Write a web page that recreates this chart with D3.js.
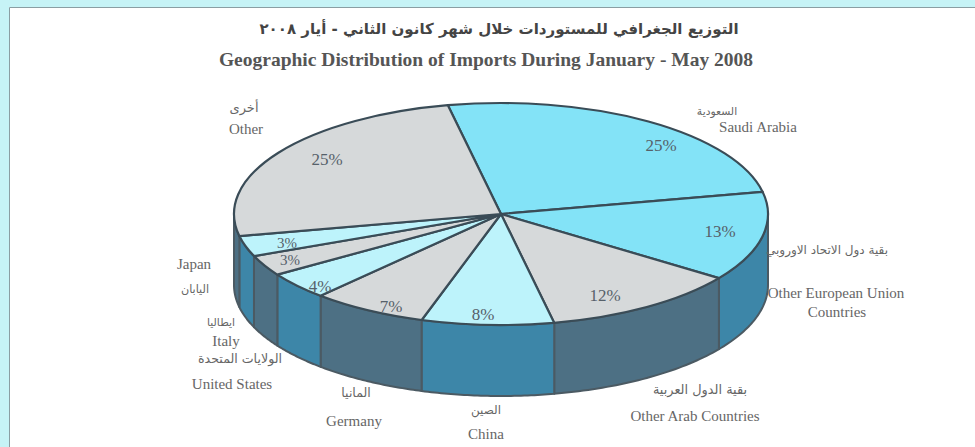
<!DOCTYPE html>
<html>
<head>
<meta charset="utf-8">
<script src="https://cdn.jsdelivr.net/npm/d3@7"></script>
<style>
  html, body { margin: 0; padding: 0; background: #c6f3f6; overflow: hidden; }
  text { font-family: "Liberation Serif", serif; fill: #666; }
  .ar { font-family: "DejaVu Sans", sans-serif; direction: rtl; }
</style>
</head>
<body>
<div id="visualization"></div>
<script>
const width = 975;
const height = 447;

// clockwise from the top seam, same order as the reference
const names = ['Saudi Arabia', 'Other European Union', 'Other Arab Countries', 'China', 'Germany', 'United States', 'Italy', 'Japan', 'Other'];
const namesAr = ['السعودية', 'بقية دول الاتحاد الاوروبي', 'بقية الدول العربية', 'الصين', 'المانيا', 'الولايات المتحدة', 'ايطاليا', 'اليابان', 'أخرى'];
const shares = [25, 13, 12, 8, 7, 4, 3, 3, 25];

const titleAr = 'التوزيع الجغرافي للمستوردات خلال شهر كانون الثاني - أيار ٢٠٠٨';
const titleEn = 'Geographic Distribution of Imports During January - May 2008';

// pixel spots for the labels, these were placed by hand
const pctAt = [[661, 147], [720, 233], [605, 297], [483, 316], [391, 308], [320, 288], [290, 262], [287, 245], [327, 161]];
const pctSize = [17, 17, 17, 17, 17, 17, 15, 15, 17];
const enAt = [[758, 129], [836, 295], [695, 418], [486, 436], [354, 423], [232, 386], [226, 343], [194, 266], [246, 131]];
const arAt = [[717, 112], [827, 250], [700, 390], [486, 410], [356, 393], [240, 359], [221, 323], [195, 290], [244, 108]];
const arSize = [10.8, 12, 12.9, 12, 12.5, 12.6, 10.8, 11.2, 13];

const cx = 501, cy = 214, rx = 267, ry = 111, depth = 71;
const start = -11.5 * Math.PI / 180;

const topColor = ['#83e3f7', '#83e3f7', '#d6d9da', '#bdf3fb', '#d6d9da', '#bdf3fb', '#d6d9da', '#bdf3fb', '#d6d9da'];
const sideColor = ['#3d86a8', '#3d86a8', '#4d7084', '#3d86a8', '#4d7084', '#3d86a8', '#4d7084', '#3d86a8', '#4d7084'];

const pie = d3.pie().sort(null).startAngle(start).endAngle(start + 2 * Math.PI);
const slices = pie(shares).map((d, i) => ({...d, i}));

const svg = d3.select('#visualization').append('svg').attr('width', width).attr('height', height).style('display', 'block');

svg.append('rect')
    .attr('x', 9).attr('y', 7)
    .attr('width', width - 9).attr('height', height - 7)
    .attr('fill', 'white');
svg.append('path')
    .attr('d', `M9.5,${height}V7.5H${width}`)
    .attr('fill', 'none').attr('stroke', '#8a9ea3').attr('stroke-width', 1);

const px = a => cx + rx * Math.sin(a);
const py = a => cy - ry * Math.cos(a);

// wall of the cake, only the part from 90deg to 270deg faces us
function wall(a0, a1) {
    const p = d3.path();
    const n = 40;
    for (let k = 0; k <= n; k++) {
        const a = a0 + (a1 - a0) * k / n;
        if (k === 0) p.moveTo(px(a), py(a));
        else p.lineTo(px(a), py(a));
    }
    for (let k = n; k >= 0; k--) {
        const a = a0 + (a1 - a0) * k / n;
        p.lineTo(px(a), py(a) + depth);
    }
    p.closePath();
    return p.toString();
}

const chart = svg.append('g');

const lo = Math.PI / 2, hi = 3 * Math.PI / 2;
const visible = slices
    .map(d => ({i: d.i, a0: Math.max(d.startAngle, lo), a1: Math.min(d.endAngle, hi)}))
    .filter(d => d.a1 > d.a0);

chart.selectAll('path.wall')
    .data(visible)
    .join('path')
    .attr('class', 'wall')
    .attr('d', d => wall(d.a0, d.a1))
    .attr('fill', d => sideColor[d.i])
    .attr('stroke', '#4b5a63')
    .attr('stroke-width', 2)
    .attr('stroke-linejoin', 'round');

// unit circle arcs squashed into the ellipse
const arc = d3.arc().innerRadius(0).outerRadius(1);
chart.append('g')
    .attr('transform', `translate(${cx},${cy}) scale(${rx},${ry})`)
    .selectAll('path')
    .data(slices)
    .join('path')
    .attr('d', arc)
    .attr('fill', d => topColor[d.i])
    .attr('stroke', '#3a4c57')
    .attr('stroke-width', 2.2)
    .attr('vector-effect', 'non-scaling-stroke')
    .attr('stroke-linejoin', 'round');

chart.selectAll('text.pct')
    .data(shares)
    .join('text')
    .attr('class', 'pct')
    .attr('x', (d, i) => pctAt[i][0])
    .attr('y', (d, i) => pctAt[i][1])
    .attr('text-anchor', 'middle')
    .attr('dominant-baseline', 'middle')
    .attr('font-size', (d, i) => pctSize[i])
    .style('fill', '#56616a')
    .text(d => d + '%');

// EU label breaks in two lines
names.forEach((n, i) => {
    svg.append('text')
        .attr('x', enAt[i][0]).attr('y', enAt[i][1])
        .attr('text-anchor', 'middle')
        .attr('dominant-baseline', 'middle')
        .attr('font-size', 15)
        .text(n);
    svg.append('text')
        .attr('class', 'ar')
        .attr('x', arAt[i][0]).attr('y', arAt[i][1])
        .attr('text-anchor', 'middle')
        .attr('dominant-baseline', 'middle')
        .attr('font-size', arSize[i])
        .text(namesAr[i]);
});
svg.append('text')
    .attr('x', 837).attr('y', 314)
    .attr('text-anchor', 'middle')
    .attr('dominant-baseline', 'middle')
    .attr('font-size', 15)
    .text('Countries');

svg.append('text')
    .attr('class', 'ar')
    .attr('x', 499).attr('y', 29)
    .attr('text-anchor', 'middle')
    .attr('dominant-baseline', 'middle')
    .attr('font-size', 15)
    .attr('font-weight', 'bold')
    .style('fill', '#444')
    .text(titleAr);
svg.append('text')
    .attr('x', 486).attr('y', 62)
    .attr('text-anchor', 'middle')
    .attr('dominant-baseline', 'middle')
    .attr('font-size', 19.5)
    .attr('font-weight', 'bold')
    .style('fill', '#555')
    .text(titleEn);
</script>
</body>
</html>
